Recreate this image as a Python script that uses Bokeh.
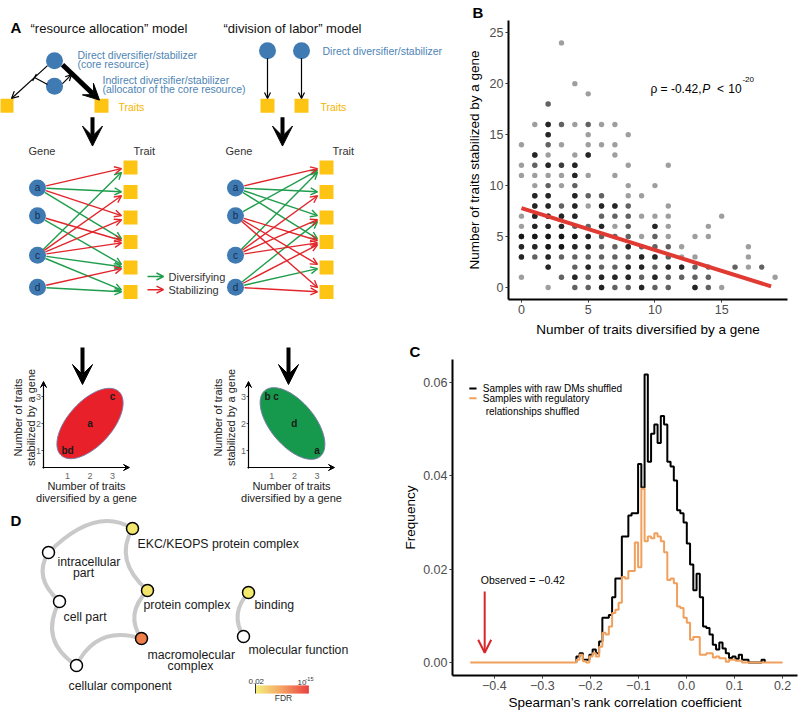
import numpy as np
from bokeh.plotting import figure
from bokeh.models import (Arrow, OpenHead, VeeHead, TeeHead, Label, ColumnDataSource,
                          FixedTicker, Range1d, CustomJSTickFormatter)
from bokeh.layouts import row, column
from bokeh.embed import file_html
from bokeh.resources import INLINE
from bokeh.core.properties import value

FONT = "Liberation Sans"

# ======================= DATA =======================
# ---- Panel A: toy gene -> trait networks ----
gene_names = ["a", "b", "c", "d"]
# "resource allocation" model: gene, trait (1-6), kind (D = diversifying, S = stabilizing)
ra_gene = ["a", "a", "a", "a", "b", "b", "c", "c", "c", "c", "c", "c", "d", "d"]
ra_trait = [1, 2, 3, 4, 4, 5, 1, 2, 3, 4, 5, 6, 5, 6]
ra_kind = ["S", "D", "S", "D", "S", "D", "D", "S", "S", "S", "D", "D", "S", "D"]
# "division of labor" model
dl_gene = ["a", "a", "a", "a", "b", "b", "b", "b", "c", "c", "c", "c", "d", "d", "d", "d"]
dl_trait = [1, 2, 3, 4, 1, 4, 5, 6, 1, 2, 3, 4, 3, 4, 5, 6]
dl_kind = ["S", "D", "D", "D", "D", "S", "S", "S", "D", "S", "S", "S", "D", "S", "D", "S"]
# mini scatter summaries
ra_mini_label = ["bd", "a", "c"]
ra_mini_div = [1, 2, 3]
ra_mini_stab = [1, 2, 3]
dl_mini_label = ["a", "d", "b c"]
dl_mini_div = [3, 2, 1]
dl_mini_stab = [1, 2, 3]
mini_ticks = [1, 2, 3]

# ---- Panel B: traits diversified vs stabilized per gene (n = overlapping genes) ----
stab_counts = ([24] + [20] + [19] + [18] + [16] * 7 + [15] * 3 + [14] * 6 + [13] * 5 + [12] * 7
               + [11] * 7 + [10] * 6 + [9] * 7 + [8] * 9 + [7] * 12 + [6] * 12 + [5] * 14
               + [4] * 14 + [3] * 15 + [2] * 15 + [1] * 14 + [0] * 12)
div_counts = ([3] + [4] + [5] + [2]
              + [1, 2, 3, 4, 5, 6, 7]
              + [2, 5, 8]
              + [0, 2, 3, 5, 6, 7]
              + [1, 2, 4, 5, 7]
              + [0, 1, 2, 3, 4, 8, 11]
              + [0, 1, 2, 3, 4, 5, 7]
              + [1, 2, 3, 4, 8, 10]
              + [1, 2, 4, 5, 6, 8, 9]
              + [1, 2, 3, 4, 5, 6, 7, 8, 11]
              + [0, 1, 2, 3, 4, 6, 7, 8, 9, 10, 11, 15]
              + [0, 1, 2, 3, 4, 5, 6, 7, 8, 10, 11, 14]
              + [0, 1, 2, 3, 4, 5, 6, 7, 8, 9, 10, 11, 13, 14]
              + [0, 1, 2, 3, 4, 5, 6, 7, 8, 9, 10, 11, 12, 17]
              + [0, 1, 2, 3, 4, 5, 6, 7, 8, 9, 10, 11, 12, 13, 17]
              + [2, 4, 5, 6, 7, 8, 9, 10, 11, 12, 13, 14, 16, 17, 18]
              + [0, 3, 4, 5, 6, 7, 8, 9, 10, 11, 12, 13, 14, 19]
              + [2, 4, 5, 6, 7, 8, 9, 10, 11, 13, 14, 15])
n_genes = ([1] + [1] + [1] + [2]
           + [1, 4, 2, 1, 2, 1, 1]
           + [4, 1, 1]
           + [1, 2, 1, 1, 1, 1]
           + [4, 1, 1, 4, 1]
           + [1, 2, 4, 3, 4, 1, 1]
           + [1, 1, 1, 1, 4, 1, 1]
           + [1, 2, 1, 2, 1, 1]
           + [4, 4, 4, 2, 2, 1, 1]
           + [4, 4, 2, 4, 1, 4, 4, 2, 1]
           + [1, 4, 4, 4, 4, 2, 2, 2, 1, 1, 1, 1]
           + [1, 4, 4, 4, 2, 2, 4, 1, 2, 4, 1, 1]
           + [5, 5, 5, 5, 5, 4, 2, 2, 2, 1, 2, 1, 1, 1]
           + [4, 4, 5, 5, 4, 4, 2, 2, 4, 2, 2, 2, 1, 1]
           + [4, 2, 4, 2, 2, 2, 2, 2, 2, 4, 4, 2, 1, 1, 1]
           + [4, 2, 4, 2, 2, 4, 4, 2, 4, 4, 2, 2, 2, 1, 2]
           + [1, 2, 4, 2, 4, 4, 4, 2, 4, 2, 2, 2, 2, 1]
           + [1, 2, 2, 4, 2, 2, 4, 2, 2, 4, 2, 1])
fit_div = [0.0, 18.7]
fit_stab = [7.78, 0.11]

# ---- Panel C: null distributions of Spearman's rho ----
hist_start = -0.2292
hist_bin = 0.00676
raw_shuffled_freq = [0.0013, 0.002, 0.0006, 0.0006, 0.0017, 0.0028, 0.002, 0.0045, 0.0096, 0.0096,
                     0.0102, 0.014, 0.018, 0.018, 0.027, 0.027, 0.0315, 0.032,
                     0.032, 0.0425, 0.0375, 0.0617, 0.043, 0.049, 0.051, 0.047, 0.0528, 0.051,
                     0.043, 0.042, 0.039, 0.0326, 0.032, 0.030, 0.0255, 0.021, 0.0155,
                     0.019, 0.014, 0.0077, 0.0074, 0.006, 0.0038, 0.0028, 0.0043, 0.003, 0.002,
                     0.001, 0.0013, 0.0008, 0.0017, 0.0006, 0.0006, 0, 0, 0, 0, 0.0006]
reg_shuffled_freq = [0.0006, 0.0017, 0.0003, 0, 0.0013, 0.002, 0.0013, 0.0034, 0.0064, 0.006,
                     0.0077, 0.0106, 0.0113, 0.0128, 0.0183, 0.018, 0.0196, 0.0196,
                     0.0257, 0.0204, 0.0372, 0.026, 0.027, 0.0266, 0.0277, 0.027, 0.026, 0.0236,
                     0.0177, 0.018, 0.017, 0.012, 0.0117, 0.0096, 0.0085, 0.0049, 0.0055,
                     0.0055, 0.0017, 0.0017, 0.002, 0.002, 0.0011, 0.0013, 0.0009, 0.0009,
                     0.0002, 0.0006, 0.0006, 0.0004, 0.0004]
reg_range = [-0.45, 0.2]
observed_rho = -0.42
c_xticks = [-0.4, -0.3, -0.2, -0.1, 0.0, 0.1, 0.2]
c_yticks = [0.0, 0.02, 0.04, 0.06]

# ---- Panel D: GO term network ----
go_terms = ["EKC/KEOPS protein complex", "intracellular part", "protein complex", "binding",
            "cell part", "macromolecular complex", "molecular function", "cellular component"]
go_fdr = [0.006, np.nan, 0.004, 0.008, np.nan, 1e-10, np.nan, np.nan]
go_links = [(0, 1), (0, 2), (1, 4), (4, 7), (7, 5), (5, 2), (3, 6)]
fdr_scale = [0.02, 1e-15]

# ======================= STYLE =======================
BLUE = "#3f7ab3"
TXTBLUE = "#4e84b4"
YEL = "#fdc414"
GREEN = "#1f9d4c"
RED = "#e2252b"
DARK = "#222222"


def T(p, x, y, s, size=11, color=DARK, align="left", style="normal", angle=0.0, baseline="middle"):
    p.text(x=[x], y=[y], text=[s], text_font=value(FONT), text_font_size=value(f"{size}px"),
           text_color=color, text_align=align, text_baseline=baseline, text_font_style=style,
           angle=angle)


def arrow(p, x0, y0, x1, y1, color="black", lw=1.2, head=None):
    p.add_layout(Arrow(x_start=x0, y_start=y0, x_end=x1, y_end=y1, line_color=color,
                       line_width=lw, end=head))


def blank(width, height, xr, yr):
    p = figure(width=width, height=height, x_range=Range1d(*xr), y_range=Range1d(*yr),
               output_backend="svg", toolbar_location=None, x_axis_location=None,
               y_axis_location=None, min_border=0)
    p.grid.visible = False
    p.outline_line_color = None
    return p


# ======================= PANEL A (top part) =======================
pa = blank(447, 340, (0, 447), (340, 0))
T(pa, 10, 9, "A", size=15, color="black", style="bold")
T(pa, 30, 10, "\u201cresource allocation\u201d model", size=13, color="#111111")
T(pa, 223, 10, "\u201cdivision of labor\u201d model", size=13, color="#111111")

# schematic (left)
arrow(pa, 47, 55, 11, 95, "black", 1.2, OpenHead(size=7, line_width=1.2))
arrow(pa, 47, 78, 34, 69.5, "black", 1.2, TeeHead(size=8, line_width=1.2))
arrow(pa, 62, 77, 71, 66, "black", 1.2, OpenHead(size=6, line_width=1.2))
arrow(pa, 62, 54, 99, 97, "black", 5, VeeHead(size=16, fill_color="black", line_color="black"))
pa.scatter([54, 54], [49, 80], size=17, fill_color=BLUE, line_color=None)
pa.scatter([6, 101], [104, 104], marker="square", size=14, fill_color=YEL, line_color=None)
T(pa, 77, 42, "Direct diversifier/stabilizer", size=10.5, color=TXTBLUE)
T(pa, 77, 53, "(core resource)", size=10.5, color=TXTBLUE)
T(pa, 102, 73, "Indirect diversifier/stabilizer", size=10.5, color=TXTBLUE)
T(pa, 102, 84, "(allocator of the core resource)", size=10.5, color=TXTBLUE)
T(pa, 118, 106, "Traits", size=10.5, color="#f6b400")

# schematic (right)
for xx in (267, 301):
    arrow(pa, xx, 46, xx, 95, "black", 1.2, OpenHead(size=6, line_width=1.2))
pa.scatter([267, 301], [37, 37], size=17, fill_color=BLUE, line_color=None)
pa.scatter([267, 301], [104, 104], marker="square", size=14, fill_color=YEL, line_color=None)
T(pa, 322, 37, "Direct diversifier/stabilizer", size=10.5, color=TXTBLUE)
T(pa, 320, 106, "Traits", size=10.5, color="#f6b400")

for xx in (92, 282):
    arrow(pa, xx, 118, xx, 153, "black", 4, VeeHead(size=20, fill_color="black", line_color="black"))

# networks
gene_y = [204, 238, 286, 325]
trait_y = [179, 209, 240, 270, 301, 331]


def network(gx, tx, genes, traits, kinds):
    for kind, color in (("D", GREEN), ("S", RED)):
        x0, y0, x1, y1 = [], [], [], []
        for g, t, k in zip(genes, traits, kinds):
            if k != kind:
                continue
            gy = gene_y[gene_names.index(g)]
            ty = trait_y[t - 1]
            ex = tx - 9
            ey = ty + float(np.clip((gy - ty) * 0.06, -6, 6))
            ang = np.arctan2(ey - gy, ex - gx)
            x0.append(gx + 9 * np.cos(ang))
            y0.append(gy + 9 * np.sin(ang))
            x1.append(ex)
            y1.append(ey)
        src = ColumnDataSource(dict(x0=x0, y0=y0, x1=x1, y1=y1))
        pa.add_layout(Arrow(x_start="x0", y_start="y0", x_end="x1", y_end="y1", source=src,
                            line_color=color, line_width=1.4,
                            end=OpenHead(size=7, line_color=color, line_width=1.4)))
    pa.scatter([gx] * 4, gene_y, size=17, fill_color=BLUE, line_color=None)
    pa.text(x=[gx] * 4, y=gene_y, text=gene_names, text_font=value(FONT),
            text_font_size=value("10px"), text_color="#15304f", text_align="center",
            text_baseline="middle")
    pa.scatter([tx] * 6, trait_y, marker="square", size=14, fill_color=YEL, line_color=None)


network(37, 130, ra_gene, ra_trait, ra_kind)
network(235, 326, dl_gene, dl_trait, dl_kind)
T(pa, 28, 159, "Gene", size=11, color="#333333")
T(pa, 133, 159, "Trait", size=11, color="#333333")
T(pa, 225, 159, "Gene", size=11, color="#333333")
T(pa, 332, 159, "Trait", size=11, color="#333333")
arrow(pa, 147, 312, 163, 312, GREEN, 1.5, OpenHead(size=7, line_color=GREEN, line_width=1.5))
arrow(pa, 147, 328, 163, 328, RED, 1.5, OpenHead(size=7, line_color=RED, line_width=1.5))
T(pa, 168, 312, "Diversifying", size=11, color="#333333")
T(pa, 168, 328, "Stabilizing", size=11, color="#333333")

# ======================= PANEL A (bottom part) =======================
pa2 = blank(400, 164, (0, 400), (504, 340))
for xx in (82, 288):
    arrow(pa2, xx, 347, xx, 384, "black", 4, VeeHead(size=20, fill_color="black", line_color="black"))


def mini(p, ox, ux, axis_x, xend, labels, dv, st, ecx, ecol, eang, ytitle_x):
    oy, uy = 477, 27
    th = np.linspace(0, 2 * np.pi, 120)
    a, b = 43, 22
    ang = np.deg2rad(eang)
    ex = ecx + a * np.cos(th) * np.cos(ang) - b * np.sin(th) * np.sin(ang)
    ey = 423 - (a * np.cos(th) * np.sin(ang) + b * np.sin(th) * np.cos(ang))
    p.patch(ex, ey, fill_color=ecol, line_color="#7b7ba6", line_width=1)
    p.text(x=[ox + ux * v for v in dv], y=[oy - uy * v for v in st], text=labels,
           text_font=value(FONT), text_font_size=value("10px"), text_color="#1a1a1a",
           text_align="center", text_baseline="middle", text_font_style="bold")
    arrow(p, axis_x, 468, axis_x, 381, "black", 1.2, VeeHead(size=6, fill_color="black", line_color="black"))
    arrow(p, axis_x - 1, 467, xend, 467, "black", 1.2, VeeHead(size=6, fill_color="black", line_color="black"))
    p.segment(x0=[axis_x - 2] * 3, x1=[axis_x] * 3, y0=[oy - uy * v for v in mini_ticks],
              y1=[oy - uy * v for v in mini_ticks], line_color="#555555", line_width=1)
    p.text(x=[axis_x - 5] * 3, y=[oy - uy * v for v in mini_ticks], text=[str(v) for v in mini_ticks],
           text_font=value(FONT), text_font_size=value("9px"), text_color="#666666",
           text_align="center", text_baseline="middle")
    p.text(x=[ox + ux * v for v in mini_ticks], y=[475] * 3, text=[str(v) for v in mini_ticks],
           text_font=value(FONT), text_font_size=value("9px"), text_color="#666666",
           text_align="center", text_baseline="middle")
    T(p, ytitle_x, 417, "Number of traits", size=11, color="#222222", align="center", angle=np.pi / 2)
    T(p, ytitle_x + 13, 417, "stabilized by a gene", size=11, color="#222222", align="center", angle=np.pi / 2)
    cx = (axis_x + xend) / 2
    T(p, cx, 485, "Number of traits", size=11, color="#222222", align="center")
    T(p, cx, 497, "diversified by a gene", size=11, color="#222222", align="center")


mini(pa2, 44.5, 22.5, 43, 129, ra_mini_label, ra_mini_div, ra_mini_stab, 89.5, "#e8202a", 48, 17)
mini(pa2, 248.5, 22.7, 248, 334, dl_mini_label, dl_mini_div, dl_mini_stab, 292, "#16994c", -50, 217)

# ======================= PANEL D =======================
pd = blank(400, 208, (0, 400), (712, 504))
T(pd, 10, 520, "D", size=15, color="black", style="bold")
node_x = [132, 48, 147, 248, 59, 141, 243, 76]
node_y = [528, 552, 590, 592, 601, 638, 636, 665]
ctrl = [(95, 505), (113, 560), (32, 577), (38, 640), (96, 624), (124, 614), (229, 613)]
pd.quadratic(x0=[node_x[i] for i, j in go_links], y0=[node_y[i] for i, j in go_links],
             x1=[node_x[j] for i, j in go_links], y1=[node_y[j] for i, j in go_links],
             cx=[c[0] for c in ctrl], cy=[c[1] for c in ctrl], line_color="#c9c9c9", line_width=4)


def interp_color(t):
    stops = [(0.0, (243, 238, 110)), (0.5, (243, 152, 82)), (1.0, (232, 46, 44))]
    t = min(max(t, 0.0), 1.0)
    for (t0, c0), (t1, c1) in zip(stops[:-1], stops[1:]):
        if t <= t1:
            f = (t - t0) / (t1 - t0)
            c = [int(round(c0[k] + f * (c1[k] - c0[k]))) for k in range(3)]
            return "#%02x%02x%02x" % tuple(c)
    return "#%02x%02x%02x" % stops[-1][1]


lo, hi = -np.log10(fdr_scale[0]), -np.log10(fdr_scale[1])
node_col = ["white" if np.isnan(f) else interp_color((-np.log10(f) - lo) / (hi - lo)) for f in go_fdr]
pd.scatter(node_x, node_y, size=12, fill_color=node_col, line_color="black", line_width=1.5)

lab_specs = [("EKC/KEOPS protein complex", 137, 543, "left"), ("intracellular", 57, 561, "left"),
             ("part", 83, 572, "center"), ("protein complex", 143, 604, "left"),
             ("binding", 254, 604, "left"), ("cell part", 63, 616, "left"),
             ("macromolecular", 147, 654, "left"), ("complex", 190, 665, "center"),
             ("molecular function", 248, 649, "left"), ("cellular component", 68, 685, "left")]
for s, x, y, al in lab_specs:
    T(pd, x, y, s, size=12.3, color="#1a1a1a", align=al)

nseg = 53
edges = np.linspace(255, 308, nseg + 1)
pd.quad(left=edges[:-1], right=edges[1:] + 0.3, top=[685] * nseg, bottom=[693] * nseg,
        fill_color=[interp_color(i / (nseg - 1)) for i in range(nseg)], line_color=None)
pd.segment(x0=[255], x1=[255], y0=[683], y1=[693], line_color="#333333", line_width=1)
T(pd, 248, 681, "0.02", size=8, color="#333333")
T(pd, 297, 682, "10", size=8, color="#333333")
T(pd, 305, 678.5, "-15", size=5.5, color="#333333")
T(pd, 283, 697.5, "FDR", size=8.5, color="#333333", align="center")


# ======================= axes styling =======================
def style_axes(p, tick_size="12.5px", title_size="13.5px"):
    p.grid.visible = False
    p.outline_line_color = None
    for ax in p.axis:
        ax.axis_line_width = 2
        ax.axis_line_color = "black"
        ax.major_tick_line_color = "#333333"
        ax.major_tick_out = 3
        ax.major_tick_in = 0
        ax.minor_tick_line_color = None
        ax.major_label_text_color = "#4d4d4d"
        ax.major_label_text_font = FONT
        ax.major_label_text_font_size = tick_size
        ax.axis_label_text_font = FONT
        ax.axis_label_text_font_size = title_size
        ax.axis_label_text_font_style = "normal"
        ax.axis_label_text_color = "black"
        ax.major_label_standoff = 2
        ax.axis_label_standoff = 5


def style_title(p, text, offset):
    p.title.text = text
    p.title.text_font = FONT
    p.title.text_font_size = "15px"
    p.title.text_font_style = "bold"
    p.title.text_color = "black"
    p.title.align = "left"
    p.title.offset = offset
    p.title.standoff = 0


def L(p, x, y, s, size="12px", color="black", style="normal", align="left"):
    p.add_layout(Label(x=x, y=y, text=s, text_font=FONT, text_font_size=size, text_color=color,
                       text_font_style=style, text_align=align, text_baseline="middle"))


# ======================= PANEL B =======================
pb = figure(width=353, height=340, x_range=Range1d(-0.97, 19.93), y_range=Range1d(-1.18, 26.2),
            output_backend="svg", toolbar_location=None, min_border_left=61,
            min_border_right=13, min_border_top=20, min_border_bottom=41)
style_axes(pb)
style_title(pb, "B", -36)
pb.xaxis.ticker = FixedTicker(ticks=[0, 5, 10, 15])
pb.yaxis.ticker = FixedTicker(ticks=[0, 5, 10, 15, 20, 25])
pb.xaxis.axis_label = "Number of traits diversified by a gene"
pb.yaxis.axis_label = "Number of traits stabilized by a gene"
px_rep, py_rep = [], []
for xv, yv, nv in zip(div_counts, stab_counts, n_genes):
    px_rep += [xv] * nv
    py_rep += [yv] * nv
pb.scatter(px_rep, py_rep, size=5.4, fill_color="black", fill_alpha=0.38, line_color=None)
pb.line(fit_div, fit_stab, line_color="#e03a33", line_width=4)
L(pb, 9.66, 19.5, "\u03c1 = -0.42,", size="12px")
L(pb, 13.55, 19.5, "P", size="12px", style="italic")
L(pb, 14.65, 19.5, "<", size="12px")
L(pb, 15.5, 19.5, "10", size="12px")
L(pb, 16.55, 20.4, "-20", size="8px")

# ======================= PANEL C =======================
pc = figure(width=400, height=372, x_range=Range1d(-0.487, 0.231), y_range=Range1d(-0.00277, 0.0649),
            output_backend="svg", toolbar_location=None, min_border_left=43,
            min_border_right=3, min_border_top=18, min_border_bottom=34)
style_axes(pc, tick_size="12.5px", title_size="13.5px")
style_title(pc, "C", -43)
pc.xaxis.axis_label_standoff = 2
pc.yaxis.axis_label_standoff = 2
pc.xaxis.ticker = FixedTicker(ticks=c_xticks)
pc.yaxis.ticker = FixedTicker(ticks=c_yticks)
pc.xaxis.formatter = CustomJSTickFormatter(code="return tick.toFixed(1).replace('-', '\u2212');")
pc.yaxis.formatter = CustomJSTickFormatter(code="return tick.toFixed(2);")
pc.xaxis.axis_label = "Spearman\u2019s rank correlation coefficient"
pc.yaxis.axis_label = "Frequency"

nb = len(raw_shuffled_freq)
e_raw = list(hist_start + hist_bin * np.arange(nb + 1))
pc.step([e_raw[0]] + e_raw, [0] + raw_shuffled_freq + [0], mode="after",
        line_color="black", line_width=2)
no = len(reg_shuffled_freq)
e_reg = list(hist_start + hist_bin * np.arange(no + 1))
pc.step([reg_range[0]] + e_reg + [reg_range[1]], [0] + reg_shuffled_freq + [0, 0], mode="after",
        line_color="#f0a05c", line_width=2)

pc.segment(x0=[-0.452], x1=[-0.437], y0=[0.0587], y1=[0.0587], line_color="black", line_width=2)
pc.segment(x0=[-0.452], x1=[-0.437], y0=[0.0566], y1=[0.0566], line_color="#f0a05c", line_width=2)
L(pc, -0.424, 0.0587, "Samples with raw DMs shuffled", size="10px")
L(pc, -0.424, 0.0566, "Samples with regulatory", size="10px")
L(pc, -0.418, 0.0538, "relationships shuffled", size="10px")
L(pc, -0.428, 0.0177, "Observed = \u22120.42", size="10.5px")
pc.add_layout(Arrow(x_start=observed_rho, y_start=0.0152, x_end=observed_rho, y_end=0.0021,
                    line_color="#d9262b", line_width=2,
                    end=OpenHead(size=13, line_color="#d9262b", line_width=2)))

layout = column(row(pa, pb), row(column(pa2, pd), pc))
open("out.html", "w").write(file_html(layout, INLINE))
